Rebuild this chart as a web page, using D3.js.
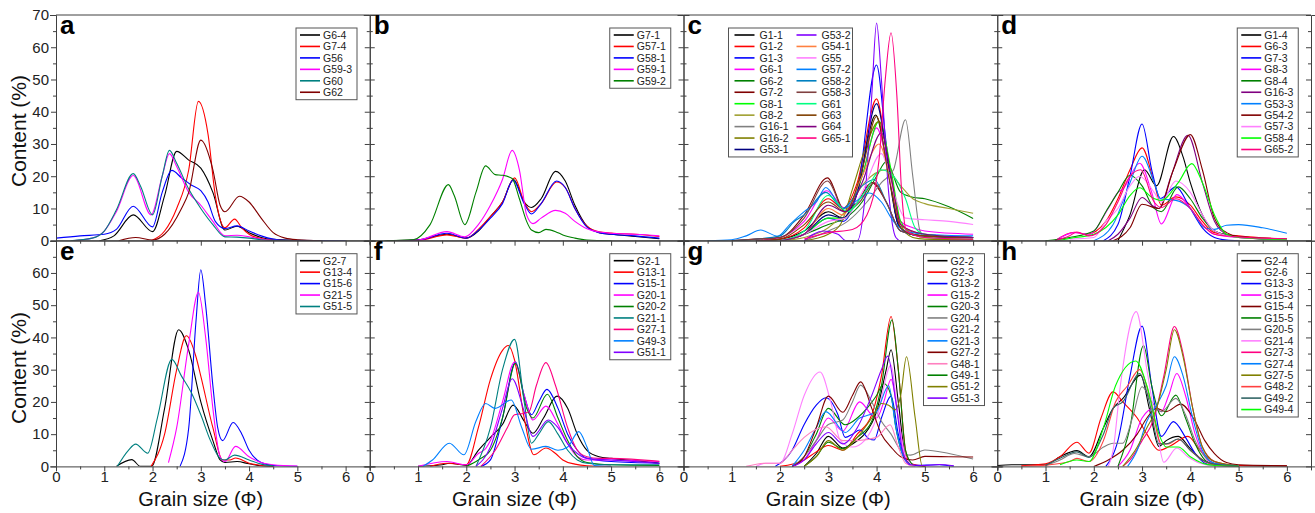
<!DOCTYPE html>
<html>
<head>
<meta charset="utf-8">
<script src="https://cdn.jsdelivr.net/npm/d3@7"></script>
<style>
  body { margin: 0; background: #fff; }
  svg { display: block; font-family: "Liberation Sans", Arial, sans-serif; }
</style>
</head>
<body>
<svg id="chart" width="1315" height="513"></svg>
<script>
// tick values
const xTickValues = [0, 1, 2, 3, 4, 5, 6];
const yTicksTopRow = [0, 10, 20, 30, 40, 50, 60, 70];
const yTicksBottomRow = [0, 10, 20, 30, 40, 50, 60];
const panelLetters = ["a", "b", "c", "d", "e", "f", "g", "h"];

// panel a
const namesA = ["G6-4", "G7-4", "G56", "G59-3", "G60", "G62"];
const colorsA = ["#000000", "#ff0000", "#0000ff", "#ff00ff", "#008080", "#800000"];
const dataA = [
  [[0.9,0],[1.2,1.5],[1.6,8],[2.0,2.8],[2.25,14],[2.5,27.7],[2.75,25],[3.0,22.5],[3.25,15],[3.5,3.3],[3.75,4.5],[4.0,2.5],[4.25,1],[4.5,0.4],[5,0.1],[5.5,0]],
  [[1.97,0],[2.25,3],[2.5,10],[2.75,22],[2.95,43.2],[3.15,33],[3.3,14],[3.5,4],[3.7,6.7],[3.85,4],[4.0,2],[4.25,0.7],[4.5,0.2],[5,0]],
  [[0,0.8],[0.5,1.5],[1.0,2],[1.25,3.5],[1.6,10.7],[2.0,4.3],[2.2,15],[2.4,21.8],[2.6,19.5],[2.8,17.3],[3.0,15.5],[3.15,12],[3.3,6],[3.5,3.8],[3.75,4.6],[4.0,3],[4.25,1.5],[4.5,0.5],[4.75,0.1],[6,0]],
  [[0.35,0],[0.75,0.8],[1.0,3],[1.25,9],[1.6,20.2],[1.97,8],[2.2,20],[2.35,27],[2.5,23],[2.75,15],[3.0,11],[3.25,6],[3.5,1.5],[3.75,1.7],[4.0,1.2],[4.25,0.5],[4.5,0.1],[5,0]],
  [[0.3,0],[0.75,0.8],[1.0,3],[1.25,9.5],[1.6,20.8],[1.75,17],[2.0,8],[2.2,20],[2.35,28],[2.5,24],[2.75,16],[3.0,10],[3.25,5],[3.5,1.2],[3.75,1.1],[4.0,0.8],[4.25,0.3],[4.5,0.1],[5,0]],
  [[1.3,0],[1.65,1],[2.0,0.2],[2.25,2],[2.6,10],[2.75,15],[3.0,31.2],[3.25,22],[3.4,11],[3.5,9],[3.8,13.8],[4.0,12],[4.25,7],[4.5,2.5],[4.75,0.8],[5,0.3],[5.5,0]]
];

// panel b
const namesB = ["G7-1", "G57-1", "G58-1", "G59-1", "G59-2"];
const colorsB = ["#000000", "#ff0000", "#0000ff", "#ff00ff", "#008000"];
const dataB = [
  [[0.35,0],[1.0,0.3],[1.6,2],[2.0,0.8],[2.25,3],[2.5,7.5],[2.75,12],[2.98,19],[3.2,12],[3.35,10.3],[3.55,13],[3.85,21.5],[4.05,18.5],[4.25,11],[4.5,4.5],[4.75,2.5],[5,2],[5.5,1.3],[6,0.6]],
  [[0.5,0],[1.0,0.1],[1.6,1.8],[2.0,0.8],[2.25,3.5],[2.5,7.5],[2.75,12],[3.0,19.5],[3.2,12],[3.35,9],[3.55,11.5],[3.87,18.2],[4.05,16.5],[4.25,10],[4.5,4.5],[4.75,2.8],[5,2.4],[5.5,2],[6,1.3]],
  [[0.5,0],[1.0,0.2],[1.6,2.3],[2.0,0.8],[2.25,3.2],[2.5,7],[2.75,11.5],[2.97,18.8],[3.2,11.5],[3.35,8.3],[3.55,11.5],[3.87,18.5],[4.05,16.5],[4.25,10],[4.5,4.2],[4.75,2.5],[5,2],[5.5,1.5],[6,0.8]],
  [[0.5,0],[1.0,0.2],[1.6,2.8],[1.97,1.2],[2.25,5],[2.5,11],[2.75,19],[2.95,28],[3.1,22],[3.25,8],[3.38,5.3],[3.55,7],[3.85,9.4],[4.05,8.5],[4.25,6],[4.5,3.7],[4.75,2.7],[5,2.3],[5.5,2],[6,1.5]],
  [[0.3,0],[0.9,0.3],[1.25,5],[1.63,17.4],[1.75,14],[1.97,5],[2.2,15],[2.4,23.2],[2.6,20.5],[2.75,20.3],[2.95,19.3],[3.1,13],[3.25,6],[3.35,3.3],[3.5,2.5],[3.65,3.5],[3.85,2.8],[4.0,1.8],[4.25,0.8],[4.5,0.2],[5,0]]
];

// panel c
const namesC = ["G1-1", "G1-2", "G1-3", "G6-1", "G6-2", "G7-2", "G8-1", "G8-2", "G16-1", "G16-2", "G53-1",
  "G53-2", "G54-1", "G55", "G57-2", "G58-2", "G58-3", "G61", "G63", "G64", "G65-1"];
const colorsC = ["#000000", "#ff0000", "#0000ff", "#ff00ff", "#008000", "#800000", "#00ff00", "#a0a030", "#808080", "#808000", "#000080",
  "#8000ff", "#ff8040", "#ff80ff", "#0080ff", "#0080c0", "#804040", "#00ff80", "#804000", "#800080", "#ff0080"];
const dataC = [
  [[1.5,0],[2,0.5],[2.5,3],[3,9],[3.3,7],[3.6,15],[3.98,39],[4.2,25],[4.45,5],[4.7,2],[5,1.5],[6,1]],
  [[1.5,0],[2,0.5],[2.5,4],[3,13],[3.3,10],[3.6,18],[4.0,44],[4.2,28],[4.45,6],[4.7,3],[5,2],[6,1]],
  [[2,0],[2.5,2],[3,7],[3.3,6],[3.6,15],[4.0,54.5],[4.2,30],[4.45,5],[4.7,2],[5,1.5],[6,1]],
  [[1.5,0],[2,1],[2.5,6],[2.97,15.5],[3.35,10],[3.7,20],[4.0,35],[4.25,22],[4.5,6],[4.75,4],[5,3],[6,2]],
  [[2,0],[2.5,2],[3,5],[3.35,7],[3.7,12],[4.0,20],[4.2,24.5],[4.5,15],[4.75,13.5],[5,13],[5.5,10.5],[6,6.9]],
  [[1,0],[1.5,0.5],[2,1],[2.5,8],[2.98,19.5],[3.35,9],[3.6,12],[3.9,18],[4.2,12],[4.5,3],[5,1.5],[6,1]],
  [[2,0],[2.5,2],[3,7],[3.35,7],[3.7,20],[4.05,37],[4.3,22],[4.5,6],[4.75,2],[5,1],[6,0.5]],
  [[2,0],[2.5,1],[3,4],[3.4,10],[3.75,18],[4.2,22],[4.5,17],[4.75,13],[5,11.5],[5.5,10],[6,8.5]],
  [[2.5,0],[3,3],[3.4,6],[3.8,12],[4.1,18],[4.35,22],[4.6,37.5],[4.75,20],[4.9,3],[5.0,1],[6,0.5]],
  [[2.5,0],[3,2],[3.25,5],[3.5,16],[3.75,28],[4.05,37],[4.3,20],[4.5,5],[4.75,1],[5,0.5],[6,0.3]],
  [[2,0],[2.5,2],[3,8],[3.3,7],[3.6,15],[4.0,42.5],[4.2,28],[4.45,5],[4.7,2],[5,1.5],[6,1]],
  [[2.5,0],[2.9,3],[3.2,2],[3.37,0],[3.6,0],[3.75,12],[3.9,45],[4.0,67.5],[4.1,50],[4.25,15],[4.4,1],[4.5,0],[6,0]],
  [[2,0],[2.5,2],[3,10],[3.3,8],[3.7,20],[4.05,30],[4.3,18],[4.5,5],[5,2],[6,1]],
  [[2,0],[2.5,2],[3,6],[3.35,7],[3.7,15],[4.1,27],[4.35,15],[4.6,7],[5,6.5],[5.5,6],[6,5]],
  [[0.5,0],[1,0.3],[1.3,1.5],[1.6,3.3],[1.95,1.4],[2.2,5],[2.5,9],[2.75,12],[2.95,16.5],[3.3,10],[3.6,12.5],[3.85,14.8],[4.1,12],[4.35,6],[4.6,3],[5,2],[6,1.5]],
  [[1,0],[1.5,0.5],[2,1.5],[2.3,6],[2.5,8],[2.95,15],[3.3,10],[3.7,17],[3.95,19],[4.2,12],[4.5,3],[5,1.5],[6,1]],
  [[1,0],[1.5,0.5],[2,1],[2.5,7],[2.98,18.5],[3.35,9],[3.65,12],[3.95,18],[4.2,12],[4.5,3],[5,1.5],[6,1]],
  [[2,0],[2.5,3],[3,14],[3.4,9],[3.75,15],[4.1,22],[4.35,20],[4.6,13],[4.8,4],[5,2],[6,1]],
  [[1.5,0],[2,0.5],[2.5,5],[3,12],[3.35,9],[3.7,22],[4.0,38.5],[4.25,20],[4.5,4],[4.75,2],[5,1.5],[6,1]],
  [[2,0],[2.5,2],[3,11],[3.35,9],[3.7,18],[4.1,33.5],[4.3,20],[4.5,5],[5,2],[6,1]],
  [[2.5,0.5],[3,2.5],[3.5,3.5],[3.8,8],[4.05,25],[4.18,50],[4.3,64.5],[4.42,45],[4.52,15],[4.62,3],[5,1],[6,0.5]]
];

// panel d
const namesD = ["G1-4", "G6-3", "G7-3", "G8-3", "G8-4", "G16-3", "G53-3", "G54-2", "G57-3", "G58-4", "G65-2"];
const colorsD = ["#000000", "#ff0000", "#0000ff", "#ff00ff", "#008000", "#800080", "#0080ff", "#800000", "#ff80ff", "#00ff00", "#ff0080"];
const dataD = [
  [[2.5,0],[2.75,8],[3.05,22],[3.3,17],[3.65,32.3],[3.85,26],[4.0,18],[4.25,8],[4.5,3],[4.75,1.8],[5,1.2],[6,0.3]],
  [[1.2,0],[1.6,2.6],[1.85,2],[2.25,6],[2.5,13],[2.75,22],[3.0,28.8],[3.25,18],[3.4,11],[3.7,13.6],[4.0,11],[4.25,6],[4.5,2.5],[5,1.5],[6,0.5]],
  [[2.2,0],[2.5,5],[2.75,20],[3.0,36.2],[3.2,22],[3.38,13.1],[3.7,16.7],[4.0,10],[4.25,4],[4.5,1],[4.75,0.2],[5,0]],
  [[1.2,0],[1.6,2.5],[1.9,2],[2.3,10],[2.5,15],[2.6,16],[2.95,24],[3.2,15],[3.4,5.2],[3.72,14.3],[4.0,10],[4.25,5],[4.5,2],[5,1],[6,0.4]],
  [[1.0,0],[1.5,1],[2.0,3],[2.25,9],[2.5,15],[2.75,20.3],[3.0,17],[3.25,10],[3.4,9],[3.75,16.7],[4.0,13],[4.25,7],[4.5,3],[5,1.2],[6,0.5]],
  [[2.3,0],[2.5,2],[2.75,7],[3.0,13.4],[3.2,11],[3.35,10],[3.6,20],[3.95,32.7],[4.25,18],[4.5,6],[4.75,2],[5,1],[6,0.3]],
  [[2.0,0],[2.4,5],[2.75,18],[3.0,26.2],[3.25,18],[3.38,13],[3.7,12.5],[4.0,10],[4.3,4],[4.5,3.5],[4.75,4.8],[5,5],[5.5,4],[6,2.3]],
  [[2.4,0],[2.75,4],[3.0,11.3],[3.35,10],[3.65,22],[4.0,32.9],[4.25,22],[4.5,7],[4.75,2.5],[5,1.3],[6,0.5]],
  [[1.5,0.5],[2.0,1],[2.25,6],[2.5,10],[2.75,17],[2.95,20],[3.25,15],[3.4,12],[3.7,18.5],[4.0,15],[4.25,8],[4.5,3],[5,1],[6,0.4]],
  [[1.25,0],[1.5,0.7],[2.0,2],[2.5,8],[2.75,14],[2.95,16.4],[3.2,13.5],[3.4,12.5],[3.75,18],[4.03,23.9],[4.25,18],[4.5,8],[4.75,2],[5,1],[6,0.3]],
  [[1.2,0],[1.5,1.5],[1.65,2.7],[1.9,1.5],[2.25,5],[2.5,12],[2.75,20],[2.97,22],[3.25,12],[3.4,10.3],[3.7,13],[4.0,10],[4.25,5],[4.5,2],[5,1.2],[6,0.6]]
];

// panel e
const namesE = ["G2-7", "G13-4", "G15-6", "G21-5", "G51-5"];
const colorsE = ["#000000", "#ff0000", "#0000ff", "#ff00ff", "#008080"];
const dataE = [
  [[1.25,0],[1.57,2.1],[1.75,0],[1.98,0],[2.25,18],[2.54,42.4],[2.75,36],[3.0,20],[3.25,8],[3.4,2],[3.5,1.2],[3.75,1.5],[4.0,0.8],[4.25,0.2],[4.5,0]],
  [[1.97,0],[2.25,10],[2.5,30],[2.7,40.5],[2.9,34],[3.0,28],[3.25,12],[3.45,2],[3.6,2],[3.72,2.6],[4.0,1],[4.25,0.3],[4.5,0]],
  [[2.57,0],[2.75,12],[2.9,45],[3.0,61],[3.1,50],[3.25,25],[3.35,12],[3.45,8],[3.67,13.6],[3.85,10],[4.0,5],[4.25,1.2],[4.5,0.3],[5,0]],
  [[2.33,1.2],[2.5,12],[2.75,38],[2.95,54],[3.1,40],[3.25,18],[3.4,3],[3.5,1.5],[3.72,6.2],[4.0,3],[4.25,1.2],[4.5,0.5],[5,0.1]],
  [[1.27,0],[1.5,5],[1.65,6.9],[1.9,4.1],[2.1,15],[2.4,33.2],[2.6,28],[2.8,23],[3.0,16],[3.2,8],[3.4,2.5],[3.5,2],[3.7,3.5],[4.0,2],[4.25,0.7],[4.5,0.2]]
];

// panel f
const namesF = ["G2-1", "G13-1", "G15-1", "G20-1", "G20-2", "G21-1", "G27-1", "G49-3", "G51-1"];
const colorsF = ["#000000", "#ff0000", "#0000ff", "#ff00ff", "#008000", "#008080", "#ff0080", "#0080ff", "#8000ff"];
const dataF = [
  [[1.0,0],[1.5,0.5],[1.65,1],[2.0,0.3],[2.25,5],[2.5,9],[2.75,13],[2.97,19],[3.2,14],[3.38,10.3],[3.6,15],[3.88,21.8],[4.1,18],[4.3,10],[4.5,5],[4.75,3],[5,2.5],[5.5,1.8],[6,1]],
  [[1.25,0],[1.6,1],[2.0,0.5],[2.25,12],[2.5,27],[2.75,36],[2.87,37.5],[3.0,33],[3.2,15],[3.4,3.6],[3.65,5.7],[3.85,4],[4.0,2],[4.25,0.7],[4.5,0.2],[5,0]],
  [[2.3,0],[2.5,2],[2.75,15],[3.02,32.4],[3.2,22],[3.35,16],[3.5,20],[3.67,23.9],[3.9,18],[4.1,10],[4.3,5],[4.5,2.5],[5,1.5],[6,1]],
  [[1.0,0],[1.6,1.5],[2.0,0.5],[2.25,4],[2.4,5.5],[2.5,8],[2.75,20],[3.0,32.4],[3.2,22],[3.38,14.4],[3.65,18.7],[3.9,13],[4.1,7],[4.3,3],[4.5,2],[5,2],[6,1.5]],
  [[2.0,0],[2.25,2],[2.5,5],[2.75,15],[3.02,32],[3.25,18],[3.38,15],[3.68,22.4],[3.9,15],[4.1,8],[4.3,3],[4.5,1.2],[5,0.5],[6,0.3]],
  [[2.2,0],[2.5,12],[2.75,30],[3.0,39.4],[3.2,20],[3.35,7.2],[3.5,10],[3.7,13.9],[3.9,10],[4.1,5],[4.3,2],[4.5,1],[5,0.5],[6,0.5]],
  [[2.3,0],[2.6,5],[2.85,12],[3.0,16],[3.2,16.5],[3.3,17],[3.45,25],[3.65,32.2],[3.85,25],[4.1,12],[4.3,5],[4.5,3],[4.75,2.5],[5,2.5],[6,1.6]],
  [[1.1,0],[1.3,2],[1.65,7.2],[1.95,3.6],[2.2,14],[2.4,19.5],[2.6,18],[2.93,20.6],[3.15,12],[3.35,5.3],[3.65,6.2],[3.9,5],[4.1,6],[4.33,10.8],[4.5,6],[4.65,0.3],[5,0]],
  [[2.2,0],[2.5,6],[2.75,18],[2.95,27.2],[3.2,17],[3.38,9.3],[3.7,14.4],[3.9,12],[4.1,7],[4.3,4],[4.5,2.5],[5,2],[6,1]]
];

// panel g
const namesG = ["G2-2", "G2-3", "G13-2", "G15-2", "G20-3", "G20-4", "G21-2", "G21-3", "G27-2", "G48-1", "G49-1", "G51-2", "G51-3"];
const colorsG = ["#000000", "#ff0000", "#0000ff", "#ff00ff", "#008000", "#808080", "#ff80ff", "#0080ff", "#800000", "#ff80c0", "#008000", "#808000", "#8000ff"];
const dataG = [
  [[2.5,0],[2.75,4],[3.0,9.3],[3.3,5.7],[3.6,8],[3.75,10],[4.0,17],[4.2,30],[4.3,36.2],[4.45,20],[4.6,3],[4.75,0.5],[5,0]],
  [[2.0,0],[2.5,2],[2.75,4.5],[3.0,6.5],[3.3,5],[3.6,10],[3.9,16],[4.1,28],[4.3,46.5],[4.45,30],[4.6,5],[4.7,1],[5,0]],
  [[1.9,0],[2.25,5],[2.5,13],[2.75,19],[2.95,21.3],[3.2,16],[3.35,9],[3.5,10],[3.65,11.3],[3.85,8.5],[3.95,8.2],[4.1,15],[4.3,21.8],[4.45,10],[4.6,2],[4.75,0.3],[5.3,0.5],[5.6,0]],
  [[2.25,0],[2.5,2],[2.75,8],[3.0,15],[3.3,11],[3.65,20],[3.9,16],[4.0,15],[4.15,20],[4.3,27],[4.45,15],[4.6,3],[4.75,0.5]],
  [[2.25,0],[2.5,3],[2.75,10],[3.0,18],[3.35,12.9],[3.6,15],[3.8,18],[4.0,22],[4.15,25.7],[4.3,22],[4.4,12],[4.6,2],[4.75,0.5]],
  [[2.25,0],[2.5,3],[2.75,8],[3.0,13],[3.3,14.4],[3.5,20],[3.67,25.2],[3.9,20],[4.1,14],[4.3,10],[4.5,5],[4.7,3.5],[5.0,5.1],[5.5,4],[6,2.3]],
  [[1.5,0],[1.7,1],[2.0,1],[2.25,10],[2.5,22],[2.83,29.3],[3.05,20],[3.25,8],[3.5,6],[3.75,8],[4.0,15],[4.3,31.4],[4.45,15],[4.6,3],[4.75,0.5]],
  [[2.25,0],[2.5,5],[2.75,12],[2.95,17],[3.35,10.5],[3.65,15],[3.85,16],[4.0,17],[4.25,25],[4.4,12],[4.55,3],[4.7,0.5]],
  [[2.25,0],[2.5,3],[2.75,12],[3.0,21.8],[3.3,16.8],[3.5,22],[3.67,26.2],[3.9,18],[4.1,10],[4.3,6],[4.5,3],[4.75,2],[5.0,3.1],[5.5,3],[6,2.9]],
  [[1.3,0],[1.7,1],[2.0,1],[2.25,5],[2.5,9],[2.95,12.3],[3.3,8],[3.6,8],[4.0,9],[4.28,12.9],[4.45,6],[4.6,1],[4.8,0]],
  [[2.5,0],[2.75,3],[3.0,7.5],[3.3,5.5],[3.6,9],[3.9,14],[4.1,25],[4.32,45.5],[4.45,30],[4.6,5],[4.75,0.5]],
  [[2.5,0],[2.75,3],[3.0,8],[3.3,5],[3.6,9],[3.9,15],[4.1,19.5],[4.25,19],[4.38,17.5],[4.5,22],[4.62,34],[4.8,15],[4.95,0],[5,0]],
  [[2.25,0],[2.5,2],[2.75,7],[3.0,10.5],[3.3,7],[3.6,12],[3.9,22],[4.1,30],[4.23,34.2],[4.4,20],[4.55,4],[4.7,0.5],[5.0,0.3],[5.3,0.6],[5.6,0.2]]
];

// panel h
const namesH = ["G2-4", "G2-6", "G13-3", "G15-3", "G15-4", "G15-5", "G20-5", "G21-4", "G27-3", "G27-4", "G27-5", "G48-2", "G49-2", "G49-4"];
const colorsH = ["#000000", "#ff0000", "#0000ff", "#ff00ff", "#800000", "#008000", "#808080", "#ff80ff", "#ff0080", "#0080ff", "#808000", "#ff4040", "#336666", "#00ff00"];
const dataH = [
  [[0,0.3],[0.3,0.5],[1.0,0.5],[1.3,3],[1.65,4.9],[1.9,3],[2.2,12],[2.4,18],[2.6,21],[2.97,28.3],[3.15,18],[3.35,6.2],[3.5,8],[3.75,9.3],[4.0,5.5],[4.25,2],[4.5,0.8],[5,0.3],[6,0.1]],
  [[0.5,0.2],[1.0,0.8],[1.3,3],[1.65,7.5],[1.9,4.1],[2.15,15],[2.4,23.1],[2.6,20],[2.9,15],[3.1,10],[3.35,5],[3.6,6.5],[3.95,9.3],[4.2,5],[4.5,1.5],[5,0.3],[6,0.1]],
  [[2.25,0],[2.5,8],[2.75,28],[3.0,43.5],[3.2,25],[3.4,9.3],[3.65,13.9],[3.9,9],[4.1,4],[4.3,1],[4.5,0.3],[5,0]],
  [[2.5,0],[2.75,5],[3.0,15],[3.25,18],[3.4,17],[3.55,22],[3.72,28.8],[3.9,22],[4.1,10],[4.3,3],[4.5,0.8],[5,0.2]],
  [[2.0,0],[2.3,2],[2.6,5],[2.9,10],[3.1,15],[3.3,18],[3.5,17],[3.8,19.3],[4.1,14],[4.3,8],[4.5,4],[4.75,1.2],[5,0.5],[6,0.2]],
  [[2.5,0],[2.75,12],[3.03,37.5],[3.2,25],[3.4,15.7],[3.7,22.1],[3.9,15],[4.1,7],[4.3,2],[4.5,0.5],[5,0]],
  [[1.0,0.2],[1.3,2],[1.6,4],[1.9,3],[2.2,6],[2.4,7.2],[2.6,7.2],[2.8,15],[3.0,24.7],[3.2,20],[3.4,17],[3.7,21.1],[3.9,16],[4.1,8],[4.3,3],[4.5,1],[5,0.2]],
  [[2.3,0],[2.4,5],[2.55,25],[2.88,48],[3.1,30],[3.3,12],[3.45,1.3],[3.72,5.7],[3.95,3],[4.2,1],[4.5,0.2],[5,0]],
  [[2.6,0],[2.75,2],[3.0,8],[3.25,15],[3.45,28],[3.67,43.4],[3.85,35],[4.05,18],[4.25,6],[4.5,1.5],[4.75,0.5],[5,0.2]],
  [[2.7,0],[2.9,5],[3.1,14],[3.3,19],[3.5,25],[3.67,34],[3.85,28],[4.05,15],[4.25,5],[4.5,1],[5,0.2]],
  [[2.6,0],[2.9,6],[3.1,12],[3.3,18],[3.5,30],[3.67,42.4],[3.85,34],[4.05,18],[4.25,6],[4.5,1.5],[5,0.2]],
  [[0.5,0],[1.0,0.4],[1.5,1.5],[1.65,2.5],[1.9,1.5],[2.2,8],[2.45,20],[2.7,25],[2.95,30],[3.15,22],[3.4,7],[3.55,7],[3.75,8.5],[4.0,5],[4.25,2],[4.5,0.5],[5,0]],
  [[1.0,0.3],[1.3,2.5],[1.65,4.5],[1.9,2.8],[2.2,10],[2.4,18],[2.6,20],[2.95,28.8],[3.15,20],[3.35,7],[3.5,7],[3.75,8.5],[4.0,5],[4.25,2],[4.5,0.7],[5,0.2]],
  [[1.3,0.5],[1.65,2],[1.9,1.5],[2.2,12],[2.45,25],[2.87,32.7],[3.1,25],[3.35,10],[3.5,6],[3.75,6],[4.0,3],[4.25,1],[4.5,0.3],[5,0]]
];

// layout
const svg = d3.select("#chart");
const plotLeft = 56, plotRight = 1311;
const panelW = (plotRight - plotLeft) / 4;
const rowTop = [15, 240.7];
const panelH = 225.7;
const axisColor = "#404040";

const panels = [
  {names: namesA, colors: colorsA, data: dataA},
  {names: namesB, colors: colorsB, data: dataB},
  {names: namesC, colors: colorsC, data: dataC, legendDx: 45, cols: 2, colRows: 11},
  {names: namesD, colors: colorsD, data: dataD},
  {names: namesE, colors: colorsE, data: dataE},
  {names: namesF, colors: colorsF, data: dataF},
  {names: namesG, colors: colorsG, data: dataG},
  {names: namesH, colors: colorsH, data: dataH}
];

const defs = svg.append("defs");

panels.forEach((p, i) => {
  const col = i % 4, row = Math.floor(i / 4);
  const x0 = plotLeft + col * panelW;
  const top = rowTop[row];
  const x = d3.scaleLinear().domain([0, 6.5]).range([x0, x0 + panelW]);
  const y = d3.scaleLinear().domain([0, 70]).range([top + panelH, top]);
  const g = svg.append("g");

  defs.append("clipPath").attr("id", "clip" + i)
    .append("rect").attr("x", x0).attr("y", top).attr("width", panelW).attr("height", panelH);

  // curves
  const line = d3.line().x(d => x(d[0])).y(d => y(d[1])).curve(d3.curveMonotoneX);
  g.append("g").attr("clip-path", `url(#clip${i})`)
    .selectAll("path").data(p.data).join("path")
    .attr("d", d => line(d))
    .attr("fill", "none")
    .attr("stroke", (d, k) => p.colors[k])
    .attr("stroke-width", 1.1);

  // bottom axis
  const xAxis = d3.axisBottom(x).tickValues(d3.range(0, 6.51, 0.5)).tickSize(4)
    .tickFormat(v => (row === 1 && xTickValues.includes(v)) ? v : "");
  const xa = g.append("g").attr("transform", `translate(0,${top + panelH})`).call(xAxis);
  xa.selectAll(".tick line").attr("y2", v => Number.isInteger(v) ? 5 : 3);
  xa.selectAll("text").attr("font-size", 15).attr("y", 5).attr("dy", "0.72em").attr("fill", "#222");

  // left axis
  const yVals = d3.range(0, 70.1, 5);
  const yLabels = row === 0 ? yTicksTopRow : yTicksBottomRow;
  const ya = g.append("g").attr("transform", `translate(${x0},0)`)
    .call(d3.axisLeft(y).tickValues(yVals).tickFormat(v => (col === 0 && yLabels.includes(v)) ? v : ""));
  ya.selectAll(".tick line").attr("x2", v => {
    const len = v % 10 === 0 ? 5 : 3;
    return col === 0 ? -len : len;
  });
  ya.selectAll("text").attr("font-size", 15).attr("x", -7).attr("fill", "#222");

  // right side ticks (inward)
  const ra = g.append("g").attr("transform", `translate(${x0 + panelW},0)`)
    .call(d3.axisRight(y).tickValues(yVals).tickFormat(""));
  ra.selectAll(".tick line").attr("x2", v => v % 10 === 0 ? -5 : -3);

  [xa, ya, ra].forEach(a => {
    a.select(".domain").attr("stroke", axisColor);
    a.selectAll(".tick line").attr("stroke", axisColor);
  });

  // frame top
  g.append("line").attr("x1", x0).attr("x2", x0 + panelW).attr("y1", top).attr("y2", top)
    .attr("stroke", axisColor);

  // panel letter
  g.append("text").attr("x", x0 + 4).attr("y", top + 19)
    .attr("font-size", 26).attr("font-weight", "bold").text(panelLetters[i]);

  // legend
  const rowH = 11.45;
  const cols = p.cols || 1;
  const colRows = p.colRows || p.names.length;
  const colW = 62;
  const lx = x0 + (p.legendDx || 240);
  const ly = top + 13;
  const lw = cols === 2 ? 124 : 61;
  const lh = colRows * rowH + 3;
  const leg = g.append("g");
  leg.append("rect").attr("x", lx).attr("y", ly).attr("width", lw).attr("height", lh)
    .attr("fill", "#fff").attr("stroke", "#555").attr("stroke-width", 1);
  p.names.forEach((name, k) => {
    const c = Math.floor(k / colRows), r = k % colRows;
    const cy = ly + 7 + r * rowH;
    const bx = lx + (cols === 2 ? 6 : 4) + c * colW;
    leg.append("line").attr("x1", bx).attr("x2", bx + 20).attr("y1", cy).attr("y2", cy)
      .attr("stroke", p.colors[k]).attr("stroke-width", 1.6);
    leg.append("text").attr("x", bx + (cols === 2 ? 25 : 23)).attr("y", cy + 3.8).attr("font-size", 10.5)
      .attr("fill", "#222").text(name);
  });
});

// axis titles
[0, 1].forEach(row => {
  const cy = row === 0 ? 131 : 368;
  svg.append("text").attr("transform", `translate(26,${cy}) rotate(-90)`)
    .attr("text-anchor", "middle").attr("font-size", 21).attr("fill", "#111").text("Content (%)");
});
for (let col = 0; col < 4; col++) {
  const x = d3.scaleLinear().domain([0, 6.5]).range([plotLeft + col * panelW, plotLeft + (col + 1) * panelW]);
  svg.append("text").attr("x", x(3)).attr("y", 506).attr("text-anchor", "middle")
    .attr("font-size", 20).attr("fill", "#111").text("Grain size (\u03A6)");
}
</script>
</body>
</html>
